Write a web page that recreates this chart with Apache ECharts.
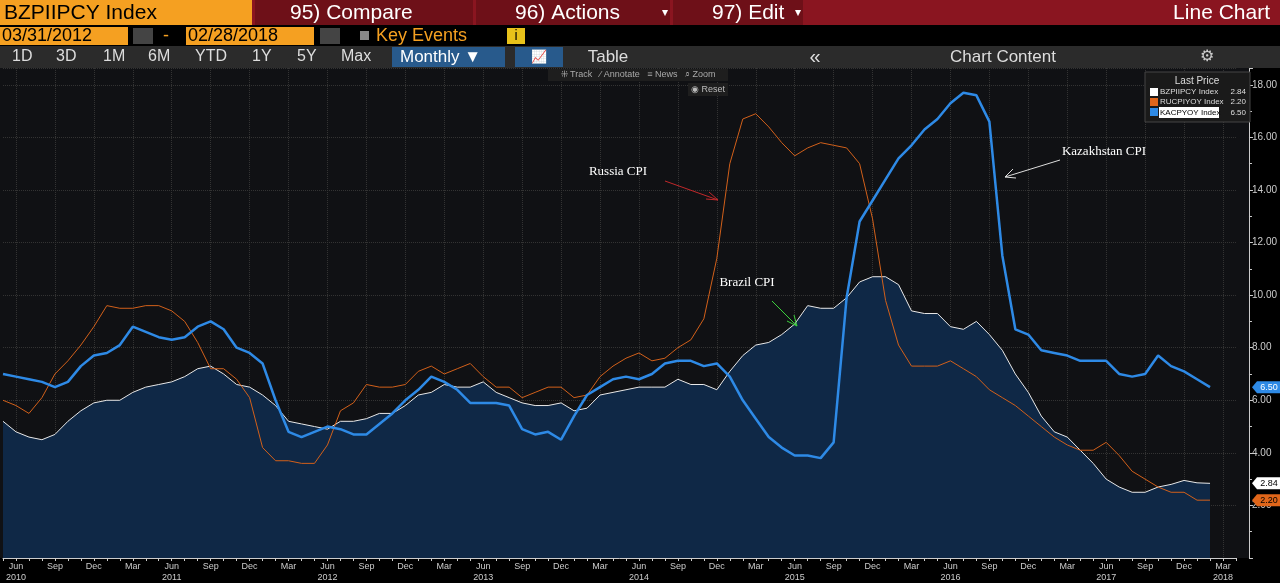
<!DOCTYPE html>
<html><head><meta charset="utf-8">
<script src="https://cdn.jsdelivr.net/npm/echarts@6/dist/echarts.min.js"></script>
<style>html,body{margin:0;padding:0;background:#000;}#c{width:1280px;height:583px;}</style>
</head><body><div id="c"></div>
<script>
const months = ["Jan","Feb","Mar","Apr","May","Jun","Jul","Aug","Sep","Oct","Nov","Dec"];
const categories = [];
for (let y = 2010, m = 4; !(y === 2018 && m === 4); ) { categories.push(y + "-" + months[m]); m++; if (m === 12) { m = 0; y++; } }
const brazil = [5.2,4.8,4.6,4.5,4.7,5.2,5.6,5.9,6.0,6.0,6.3,6.5,6.6,6.7,6.9,7.2,7.3,7.0,6.6,6.5,6.2,5.8,5.2,5.1,5.0,4.9,5.2,5.2,5.3,5.5,5.5,5.8,6.2,6.3,6.6,6.5,6.5,6.7,6.3,6.1,5.9,5.8,5.8,5.9,5.6,5.7,6.2,6.3,6.4,6.5,6.5,6.5,6.8,6.6,6.6,6.4,7.1,7.7,8.1,8.2,8.5,8.9,9.6,9.5,9.5,9.9,10.5,10.7,10.7,10.4,9.4,9.3,9.3,8.8,8.7,9.0,8.5,7.9,7.0,6.3,5.4,4.8,4.6,4.1,3.6,3.0,2.7,2.5,2.5,2.7,2.8,2.95,2.86,2.84];
const russia = [6.0,5.8,5.5,6.1,7.0,7.5,8.1,8.8,9.6,9.5,9.5,9.6,9.6,9.4,9.0,8.2,7.2,7.2,6.8,6.1,4.2,3.7,3.7,3.6,3.6,4.3,5.6,5.9,6.6,6.5,6.5,6.6,7.1,7.3,7.0,7.2,7.4,6.9,6.5,6.5,6.1,6.3,6.5,6.5,6.1,6.2,6.9,7.3,7.6,7.8,7.5,7.6,8.0,8.3,9.1,11.4,15.0,16.7,16.9,16.4,15.8,15.3,15.6,15.8,15.7,15.6,15.0,12.9,9.8,8.1,7.3,7.3,7.3,7.5,7.2,6.9,6.4,6.1,5.8,5.4,5.0,4.6,4.3,4.1,4.1,4.4,3.9,3.3,3.0,2.7,2.5,2.5,2.2,2.2];
const kazakhstan = [7.0,6.9,6.8,6.7,6.5,6.7,7.3,7.7,7.8,8.1,8.8,8.6,8.4,8.3,8.4,8.8,9.0,8.7,8.0,7.8,7.4,6.0,4.8,4.6,4.8,5.0,4.9,4.7,4.7,5.1,5.5,6.0,6.4,6.9,6.7,6.4,5.9,5.9,5.9,5.8,4.9,4.7,4.8,4.5,5.4,6.2,6.5,6.8,6.9,6.8,7.0,7.4,7.5,7.5,7.3,7.4,6.9,6.0,5.3,4.6,4.2,3.9,3.9,3.8,4.4,9.9,12.8,13.6,14.4,15.2,15.7,16.3,16.7,17.3,17.7,17.6,16.6,11.5,8.7,8.5,7.9,7.8,7.7,7.5,7.5,7.5,7.0,6.9,7.0,7.7,7.3,7.1,6.8,6.5];
const names = ["BZPIIPCY Index","RUCPIYOY Index","KACPYOY Index"];
const lastVals = ["2.84","2.20","6.50"];
const F = "Liberation Sans Narrow, Liberation Sans, Arial";
const SERIF = "13px Liberation Serif, serif";

const chart = echarts.init(document.getElementById('c'));
function txt(x,y,t,fill,size,align,font){return {type:'text',x:x,y:y,style:{text:t,fill:fill,font:font||((size||16)+'px '+F),textAlign:align||'left',textVerticalAlign:'middle'},z:20};}
function rect(x,y,w,h,fill,extra){return Object.assign({type:'rect',shape:{x:x,y:y,width:w,height:h},style:{fill:fill},z:10},extra||{});}
const header = [
  rect(0,0,1280,25,'#8a1520'),
  rect(0,0,252,25,'#f5a021'),
  rect(255,0,218,25,'#6e1018'), rect(476,0,194,25,'#6e1018'), rect(673,0,130,25,'#6e1018'),
  txt(4,13,'BZPIIPCY Index','#000',21),
  txt(290,13,'95) Compare','#fff',21), txt(515,13,'96) Actions','#fff',21), txt(662,13,'▾','#fff',12),
  txt(712,13,'97) Edit','#fff',21), txt(795,13,'▾','#fff',12), txt(1270,13,'Line Chart','#fff',21,'right'),
  rect(0,25,1280,21,'#000'),
  rect(0,27,128,18,'#f5a021'), txt(2,36,'03/31/2012','#000',18),
  rect(133,28,20,16,'#444'), txt(163,36,'-','#f5a021',18),
  rect(186,27,128,18,'#f5a021'), txt(188,36,'02/28/2018','#000',18),
  rect(320,28,20,16,'#444'),
  rect(360,31,9,9,'#888'), txt(376,36,'Key Events','#f5a021',18),
  rect(507,28,18,16,'#e8c21a'), txt(516,36,'i','#000',14,'center'),
  rect(0,46,1280,22,'#2b2b2b'),
  txt(12,57,'1D','#ddd',16), txt(56,57,'3D','#ddd',16), txt(103,57,'1M','#ddd',16), txt(148,57,'6M','#ddd',16),
  txt(195,57,'YTD','#ddd',16), txt(252,57,'1Y','#ddd',16), txt(297,57,'5Y','#ddd',16), txt(341,57,'Max','#ddd',16),
  rect(392,47,113,20,'#285a8c'), txt(400,57,'Monthly ▼','#fff',17),
  rect(515,47,48,20,'#285a8c'), txt(539,57,'📈','#fff',13,'center'),
  txt(608,57,'Table','#ddd',17,'center'), txt(815,57,'«','#ddd',20,'center'),
  txt(1003,57,'Chart Content','#ddd',17,'center'), txt(1207,57,'⚙','#ccc',16,'center'),
  rect(0,68,1250,490,'#101114',{z:-10}),
  rect(548,69,180,12,'#1e1e1e',{z:15}),
  txt(638,75,'⁜ Track   ⁄ Annotate   ≡ News   ⌕ Zoom','#aaa',9,'center'),
  rect(688,83,40,13,'#1e1e1e',{z:15}), txt(708,90,'◉ Reset','#bbb',9,'center'),
  rect(1145,72,105,50,'#1a1a1a',{style:{fill:'#1a1a1a',stroke:'#444'}}),
  txt(1197,81,'Last Price','#ddd',10,'center'),
  rect(1150,88,8,8,'#fff'), txt(1160,92,'BZPIIPCY Index','#ddd',8), txt(1246,92,'2.84','#ddd',8,'right'),
  rect(1150,98,8,8,'#e0661a'), txt(1160,102,'RUCPIYOY Index','#ddd',8), txt(1246,102,'2.20','#ddd',8,'right'),
  rect(1150,108,8,8,'#2e8ae6'), rect(1159,107,60,11,'#fff'), txt(1160,113,'KACPYOY Index','#000',8), txt(1246,113,'6.50','#ddd',8,'right'),
  txt(618,172,'Russia CPI','#fff',13,'center',SERIF),
  txt(747,283,'Brazil CPI','#fff',13,'center',SERIF),
  txt(1104,152,'Kazakhstan CPI','#fff',13,'center',SERIF),
  {type:'line',shape:{x1:665,y1:181,x2:718,y2:200},style:{stroke:'#c0282a',lineWidth:1},z:20},
  {type:'polyline',shape:{points:[[709,192],[718,200],[706,199]]},style:{stroke:'#c0282a',fill:null,lineWidth:1},z:20},
  {type:'line',shape:{x1:772,y1:301,x2:797,y2:326},style:{stroke:'#3cd23c',lineWidth:1},z:20},
  {type:'polyline',shape:{points:[[787,321],[797,326],[794,315]]},style:{stroke:'#3cd23c',fill:null,lineWidth:1},z:20},
  {type:'line',shape:{x1:1060,y1:160,x2:1005,y2:177},style:{stroke:'#ddd',lineWidth:1},z:20},
  {type:'polyline',shape:{points:[[1013,169],[1005,177],[1016,178]]},style:{stroke:'#ddd',fill:null,lineWidth:1},z:20}
];

chart.setOption({
  backgroundColor:'#000',
  animation:false,
  graphic: header,
  grid:{left:2,right:43,top:68,bottom:21,containLabel:false},
  xAxis:{type:'category',data:categories,boundaryGap:false,
    axisLine:{lineStyle:{color:'#ccc'}},
    axisTick:{show:true,interval:0,length:3,lineStyle:{color:'#ccc'}},
    axisLabel:{interval:0,color:'#ccc',fontSize:9,fontFamily:F,lineHeight:11,margin:3,
      formatter:function(v){const p=v.split('-');const m=p[1];
        if(m==='Jun')return 'Jun\n'+p[0];
        if(m==='Mar'&&p[0]==='2018')return 'Mar\n2018';
        if(m==='Mar'||m==='Sep'||m==='Dec')return m;return '';}},
    splitLine:{show:true,interval:function(i,v){return /-(Mar|Jun|Sep|Dec)$/.test(v);},lineStyle:{color:'#333',type:'dotted'}}},
  yAxis:{type:'value',position:'right',offset:13,min:0,max:18.64,interval:2,
    axisLine:{show:true,lineStyle:{color:'#ccc'}},
    axisTick:{show:true,length:4,lineStyle:{color:'#ccc'}},
    minorTick:{show:true,splitNumber:2,length:3,lineStyle:{color:'#ccc'}},
    axisLabel:{color:'#ccc',fontSize:10,fontFamily:F,margin:3,showMaxLabel:false,formatter:function(v){return (v===0||v>18.1)?'':v.toFixed(2);}},
    splitLine:{show:true,lineStyle:{color:'#333',type:'dotted'}}},
  series:[
    {name:names[0],type:'line',data:brazil,symbol:'none',lineStyle:{color:'#e8e8e8',width:1},areaStyle:{color:'#0f2846',opacity:1},z:2},
    {name:names[1],type:'line',data:russia,symbol:'none',lineStyle:{color:'#d2601a',width:1},z:3},
    {name:names[2],type:'line',data:kazakhstan,symbol:'none',lineStyle:{color:'#2e8ae6',width:2.5},z:4}
  ]
});
const tagColors=[['#fff','#000'],['#e0661a','#000'],['#2e8ae6','#fff']];
const lastData=[brazil,russia,kazakhstan];
const tags=[];
lastData.forEach(function(d,k){
  const p=chart.convertToPixel({gridIndex:0},[d.length-1,d[d.length-1]]);
  const x=1252,y=p[1];
  tags.push({type:'polygon',shape:{points:[[x,y],[x+5,y-6],[x+28,y-6],[x+28,y+6],[x+5,y+6]]},style:{fill:tagColors[k][0]},z:30});
  tags.push({type:'text',x:x+17,y:y,style:{text:lastVals[k],fill:tagColors[k][1],font:'9px '+F,textAlign:'center',textVerticalAlign:'middle'},z:31});
});
chart.setOption({graphic:header.concat(tags)});
</script></body></html>
